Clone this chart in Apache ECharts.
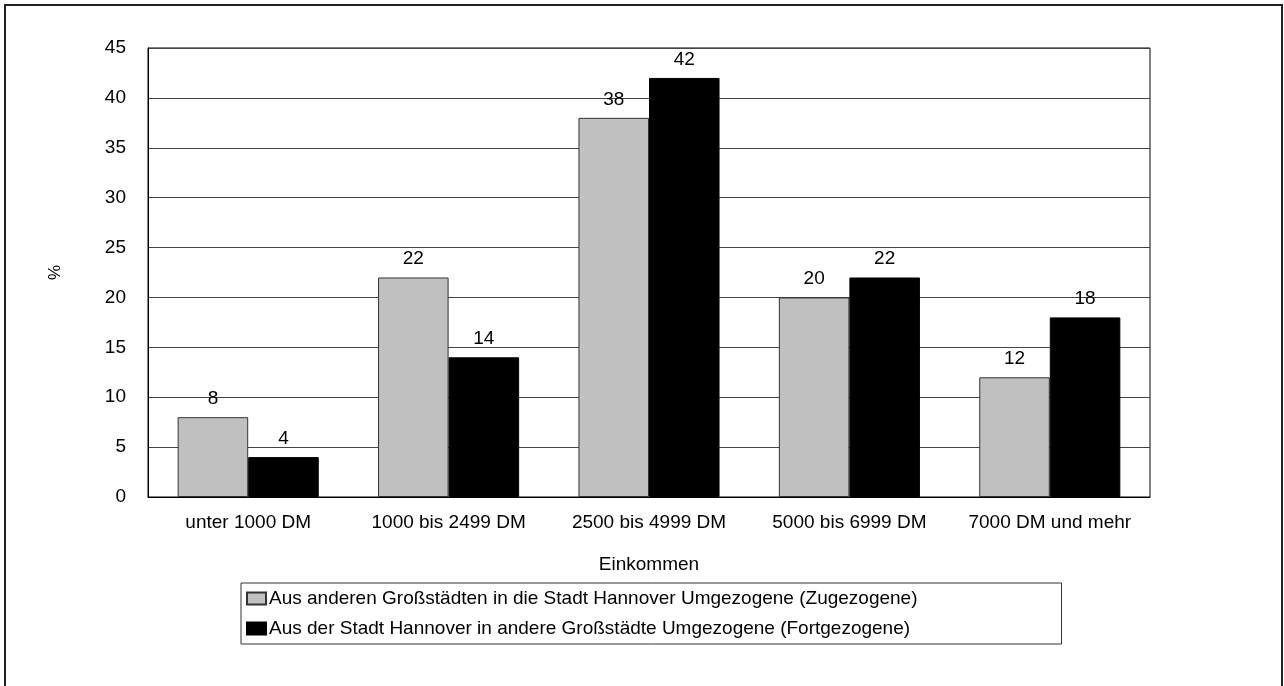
<!DOCTYPE html>
<html>
<head>
<meta charset="utf-8">
<script src="https://cdn.jsdelivr.net/npm/echarts@6/dist/echarts.min.js"></script>
<style>
  html, body { margin: 0; padding: 0; background: #fff; }
  #chart { width: 1284px; height: 686px; }
</style>
</head>
<body>
<div id="chart"></div>
<script>
// Einkommen der Umgezogenen (%)
var categories = ['unter 1000 DM', '1000 bis 2499 DM', '2500 bis 4999 DM', '5000 bis 6999 DM', '7000 DM und mehr'];
var zugezogene = [8, 22, 38, 20, 12];
var fortgezogene = [4, 14, 42, 22, 18];
var seriesNames = [
    'Aus anderen Großstädten in die Stadt Hannover Umgezogene (Zugezogene)',
    'Aus der Stadt Hannover in andere Großstädte Umgezogene (Fortgezogene)'
];

var font = 'Liberation Sans';
var fs = 19;
var myChart = echarts.init(document.getElementById('chart'));

var labelStyle = {
    show: true,
    position: 'top',
    distance: 9,
    color: '#000',
    fontSize: fs,
    fontFamily: font
};

var option = {
    backgroundColor: '#fff',
    animation: false,
    graphic: [{
        type: 'rect',
        shape: { x: 5, y: 5, width: 1277, height: 720 },
        style: { fill: 'none', stroke: '#222', lineWidth: 2 },
        silent: true
    }],
    grid: {
        left: 148, top: 48, width: 1002, height: 449,
        show: true,
        borderColor: '#000',
        borderWidth: 1
    },
    legend: {
        orient: 'vertical',
        left: 241,
        top: 583,
        padding: [6, 144, 6, 5],
        itemGap: 11,
        itemWidth: 19,
        itemHeight: 12,
        borderColor: '#333',
        borderWidth: 1,
        icon: 'rect',
        textStyle: { fontSize: fs, fontFamily: font, color: '#000', padding: [0, 0, 0, -2] },
        data: seriesNames
    },
    xAxis: {
        type: 'category',
        data: categories,
        name: 'Einkommen',
        nameLocation: 'middle',
        nameGap: 58,
        nameTextStyle: { fontSize: fs, fontFamily: font, color: '#000' },
        axisLine: { lineStyle: { color: '#000' } },
        axisTick: { show: false },
        axisLabel: { interval: 0, margin: 16, fontSize: fs, fontFamily: font, color: '#000' }
    },
    yAxis: {
        type: 'value',
        min: 0,
        max: 45,
        interval: 5,
        name: '%',
        nameLocation: 'middle',
        nameGap: 84,
        nameRotate: 90,
        nameTextStyle: { fontSize: 17, fontFamily: font, color: '#000' },
        axisLine: { show: true, lineStyle: { color: '#000' } },
        axisTick: { show: false },
        axisLabel: { margin: 22, fontSize: fs, fontFamily: font, color: '#000' },
        splitLine: { lineStyle: { color: '#444', width: 1 } }
    },
    series: [{
        name: seriesNames[0],
        type: 'bar',
        data: zugezogene,
        barGap: '0%',
        barCategoryGap: '29.6%',
        itemStyle: { color: '#c0c0c0', borderColor: '#333', borderWidth: 1 },
        label: labelStyle
    }, {
        name: seriesNames[1],
        type: 'bar',
        data: fortgezogene,
        itemStyle: { color: '#000', borderColor: '#000', borderWidth: 1 },
        label: labelStyle
    }]
};

myChart.setOption(option);
</script>
</body>
</html>
